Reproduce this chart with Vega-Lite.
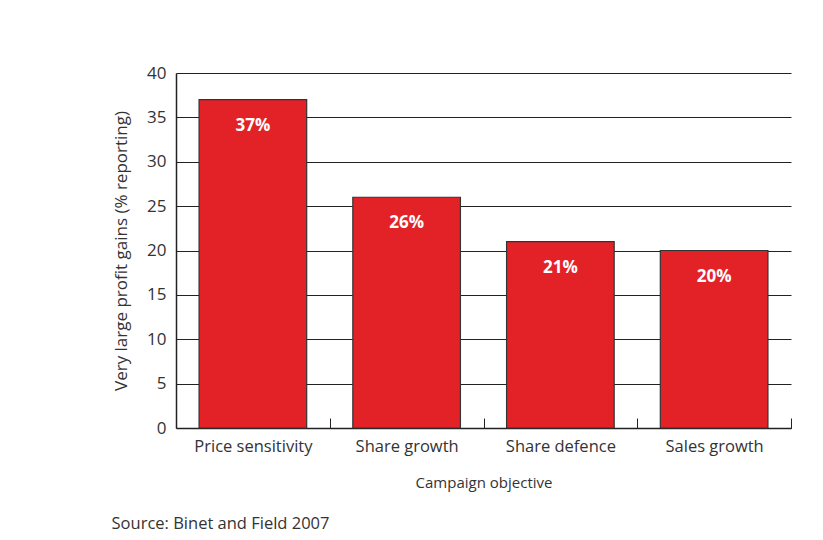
{
  "$schema": "https://vega.github.io/schema/vega-lite/v6.json",
  "width": 615,
  "height": 355,
  "autosize": {"type": "none"},
  "padding": {"left": 176, "top": 73, "right": 32, "bottom": 112},
  "background": "white",
  "config": {
    "font": "Open Sans",
    "view": {"stroke": null},
    "axis": {"labelFont": "Open Sans", "titleFont": "Open Sans", "labelColor": "#333", "titleColor": "#333", "titleFontWeight": "normal"}
  },
  "title": {
    "text": "Source: Binet and Field 2007",
    "orient": "bottom",
    "anchor": "start",
    "dx": -1,
    "offset": 25,
    "fontSize": 16.5,
    "fontWeight": "normal",
    "color": "#333",
    "font": "Open Sans"
  },
  "data": {
    "values": [
      {"objective": "Price sensitivity", "value": 37, "label": "37%"},
      {"objective": "Share growth", "value": 26, "label": "26%"},
      {"objective": "Share defence", "value": 21, "label": "21%"},
      {"objective": "Sales growth", "value": 20, "label": "20%"}
    ]
  },
  "encoding": {
    "x": {
      "field": "objective",
      "type": "nominal",
      "sort": null,
      "scale": {"paddingInner": 0.3, "paddingOuter": 0.15},
      "axis": {
        "title": "Campaign objective",
        "titleFontSize": 15,
        "titlePadding": 21,
        "labelAngle": 0,
        "labelFontSize": 16.5,
        "labelPadding": 20,
        "labelOffset": -76.875,
        "tickSize": -10,
        "tickOffset": 76.875,
        "tickColor": "#222",
        "domainColor": "#222",
        "domainWidth": 1.5,
        "grid": false
      }
    },
    "y": {
      "field": "value",
      "type": "quantitative",
      "scale": {"domain": [0, 40]},
      "axis": {
        "title": "Very large profit gains (% reporting)",
        "titleFontSize": 17,
        "titlePadding": 16,
        "values": [0, 5, 10, 15, 20, 25, 30, 35, 40],
        "labelFontSize": 17,
        "labelPadding": 10,
        "ticks": false,
        "grid": true,
        "gridColor": "#222",
        "gridOpacity": 1,
        "gridWidth": 1,
        "domainColor": "#222",
        "domainWidth": 1.5
      }
    }
  },
  "layer": [
    {
      "mark": {"type": "bar", "color": "#e32227", "stroke": "#333", "strokeWidth": 1.2}
    },
    {
      "mark": {"type": "text", "color": "white", "fontWeight": "bold", "fontSize": 17, "baseline": "middle", "dy": 26, "font": "Open Sans"},
      "encoding": {"text": {"field": "label"}}
    }
  ]
}
